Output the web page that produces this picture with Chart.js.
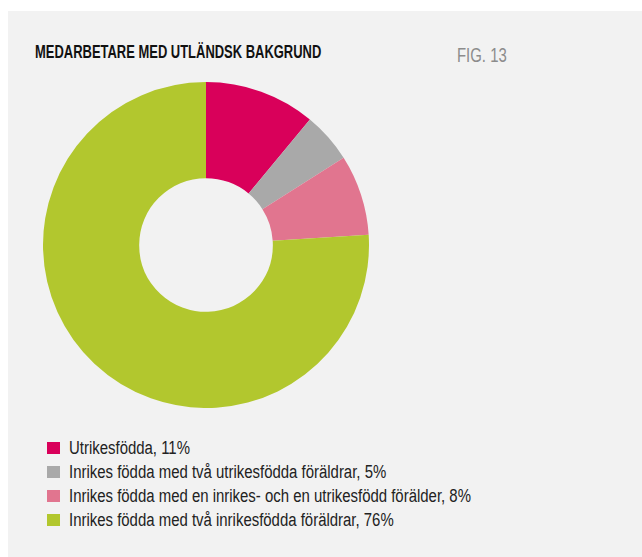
<!DOCTYPE html>
<html lang="sv">
<head>
    <meta charset="UTF-8">
    <title>Medarbetare med utländsk bakgrund</title>
    <script src="https://cdn.jsdelivr.net/npm/chart.js"></script>
    <style>
        body { margin: 0; background: #fff; width: 642px; height: 557px; overflow: hidden; position: relative; }
        .panel { position: absolute; left: 8px; top: 11px; width: 634px; height: 546px; background: #f2f2f2; }
        .title { position: absolute; left: 35px; top: 42px; font: bold 18px "Liberation Sans", sans-serif; color: #111; white-space: nowrap; transform: scaleX(0.72); transform-origin: 0 0; }
        .fig { position: absolute; left: 457px; top: 43px; font: 21px "Liberation Sans", sans-serif; color: #8c8c8c; white-space: nowrap; transform: scaleX(0.71); transform-origin: 0 0; }
        .chart-box { position: absolute; left: 43px; top: 82px; width: 326px; height: 326px; }
        .legend { position: absolute; left: 47px; top: 436px; }
        .legend .row { position: relative; height: 24px; width: 500px; }
        .legend .box { position: absolute; left: 0; top: 6px; width: 13px; height: 12px; }
        .legend .txt { position: absolute; left: 22px; top: 0; font: 18px "Liberation Sans", sans-serif; line-height: 24px; color: #222; white-space: nowrap; transform: scaleX(0.83); transform-origin: 0 0; }
    </style>
</head>
<body>
    <div class="panel"></div>
    <div class="title">MEDARBETARE MED UTLÄNDSK BAKGRUND</div>
    <div class="fig">FIG. 13</div>
    <div class="chart-box"><canvas id="donut" width="326" height="326"></canvas></div>
    <div class="legend" id="legend"></div>

    <script>
        const categories = [
            'Utrikesfödda',
            'Inrikes födda med två utrikesfödda föräldrar',
            'Inrikes födda med en inrikes- och en utrikesfödd förälder',
            'Inrikes födda med två inrikesfödda föräldrar'
        ];
        const shares = [11, 5, 8, 76];
        const colors = ['#d9005a', '#a9a9a9', '#e1758f', '#b2c72e'];

        // legend rows, one per category
        const legend = document.getElementById('legend');
        categories.forEach((name, i) => {
            const row = document.createElement('div');
            row.className = 'row';
            const box = document.createElement('div');
            box.className = 'box';
            box.style.background = colors[i];
            const txt = document.createElement('div');
            txt.className = 'txt';
            txt.textContent = name + ', ' + shares[i] + '%';
            row.appendChild(box);
            row.appendChild(txt);
            legend.appendChild(row);
        });

        new Chart(document.getElementById('donut').getContext('2d'), {
            type: 'doughnut',
            data: {
                labels: categories,
                datasets: [{
                    data: shares,
                    backgroundColor: colors,
                    borderWidth: 0,
                    hoverOffset: 0
                }]
            },
            options: {
                responsive: false,
                animation: false,
                events: [],
                cutout: '41%',
                layout: { padding: 0 },
                plugins: {
                    legend: { display: false },
                    tooltip: { enabled: false }
                }
            }
        });
    </script>
</body>
</html>
